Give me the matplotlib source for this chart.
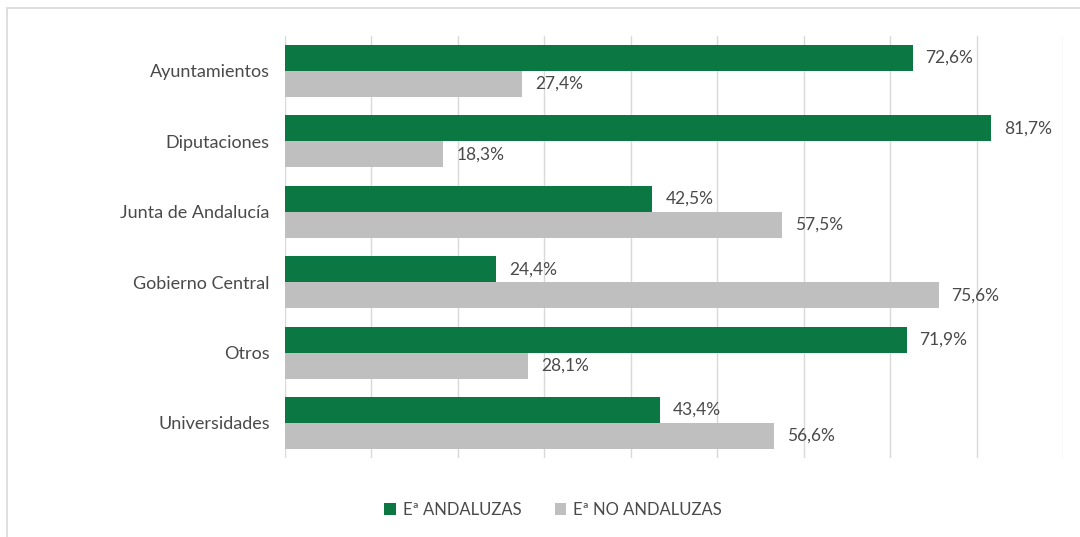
import numpy as np
import matplotlib.pyplot as plt
from matplotlib.patches import Rectangle

# Chart data
categories = ["Ayuntamientos", "Diputaciones", "Junta de Andalucía",
              "Gobierno Central", "Otros", "Universidades"]
andaluzas = [72.6, 81.7, 42.5, 24.4, 71.9, 43.4]
no_andaluzas = [27.4, 18.3, 57.5, 75.6, 28.1, 56.6]
series_names = ["Eª ANDALUZAS", "Eª NO ANDALUZAS"]

green = "#0b7843"
grey = "#bfbfbf"
text_col = "#4a4a4a"

plt.rcParams['font.family'] = ['Lato', 'DejaVu Sans']

fig = plt.figure(figsize=(10.8, 5.37), dpi=100)
ax = fig.add_axes([285 / 1080, 1 - 458.2 / 537, (1063 - 285) / 1080, (458.2 - 35.8) / 537])

# Light outer frame (only top and left edges inside the picture)
fig.patches.append(Rectangle((7 / 1080, -0.02), 1.1, 1 - 8 / 537 + 0.02,
                             transform=fig.transFigure, fill=False,
                             edgecolor="#d9d9d9", linewidth=1.2))

y = np.arange(len(categories))
h = 0.37
bars1 = ax.barh(y - h / 2, andaluzas, height=h, color=green, label=series_names[0], zorder=3)
bars2 = ax.barh(y + h / 2, no_andaluzas, height=h, color=grey, label=series_names[1], zorder=3)

for bars, vals in ((bars1, andaluzas), (bars2, no_andaluzas)):
    for b, v in zip(bars, vals):
        ax.text(b.get_width() + 1.5, b.get_y() + b.get_height() / 2,
                f"{v:.1f}%".replace(".", ","), va="center", ha="left",
                fontsize=12.5, color=text_col)

ax.set_xlim(0, 90)
ax.set_ylim(len(categories) - 0.5, -0.5)
ax.set_xticks(np.arange(0, 91, 10))
ax.set_xticklabels([])
ax.tick_params(axis="x", length=0)
ax.tick_params(axis="y", length=0, pad=11, labelsize=13, labelcolor=text_col)
ax.set_yticks(y)
ax.set_yticklabels(categories)
ax.grid(axis="x", color="#d9d9d9", linewidth=1, zorder=0)
for s in ax.spines.values():
    s.set_visible(False)

fig.legend(handles=[bars1, bars2], labels=series_names, loc="center",
           bbox_to_anchor=(553 / 1080, 1 - 510 / 537), ncol=2, frameon=False,
           fontsize=12, labelcolor=text_col, handlelength=0.7, handleheight=0.7,
           handletextpad=0.4, columnspacing=2.0)

fig.savefig("out.png", dpi=100)
